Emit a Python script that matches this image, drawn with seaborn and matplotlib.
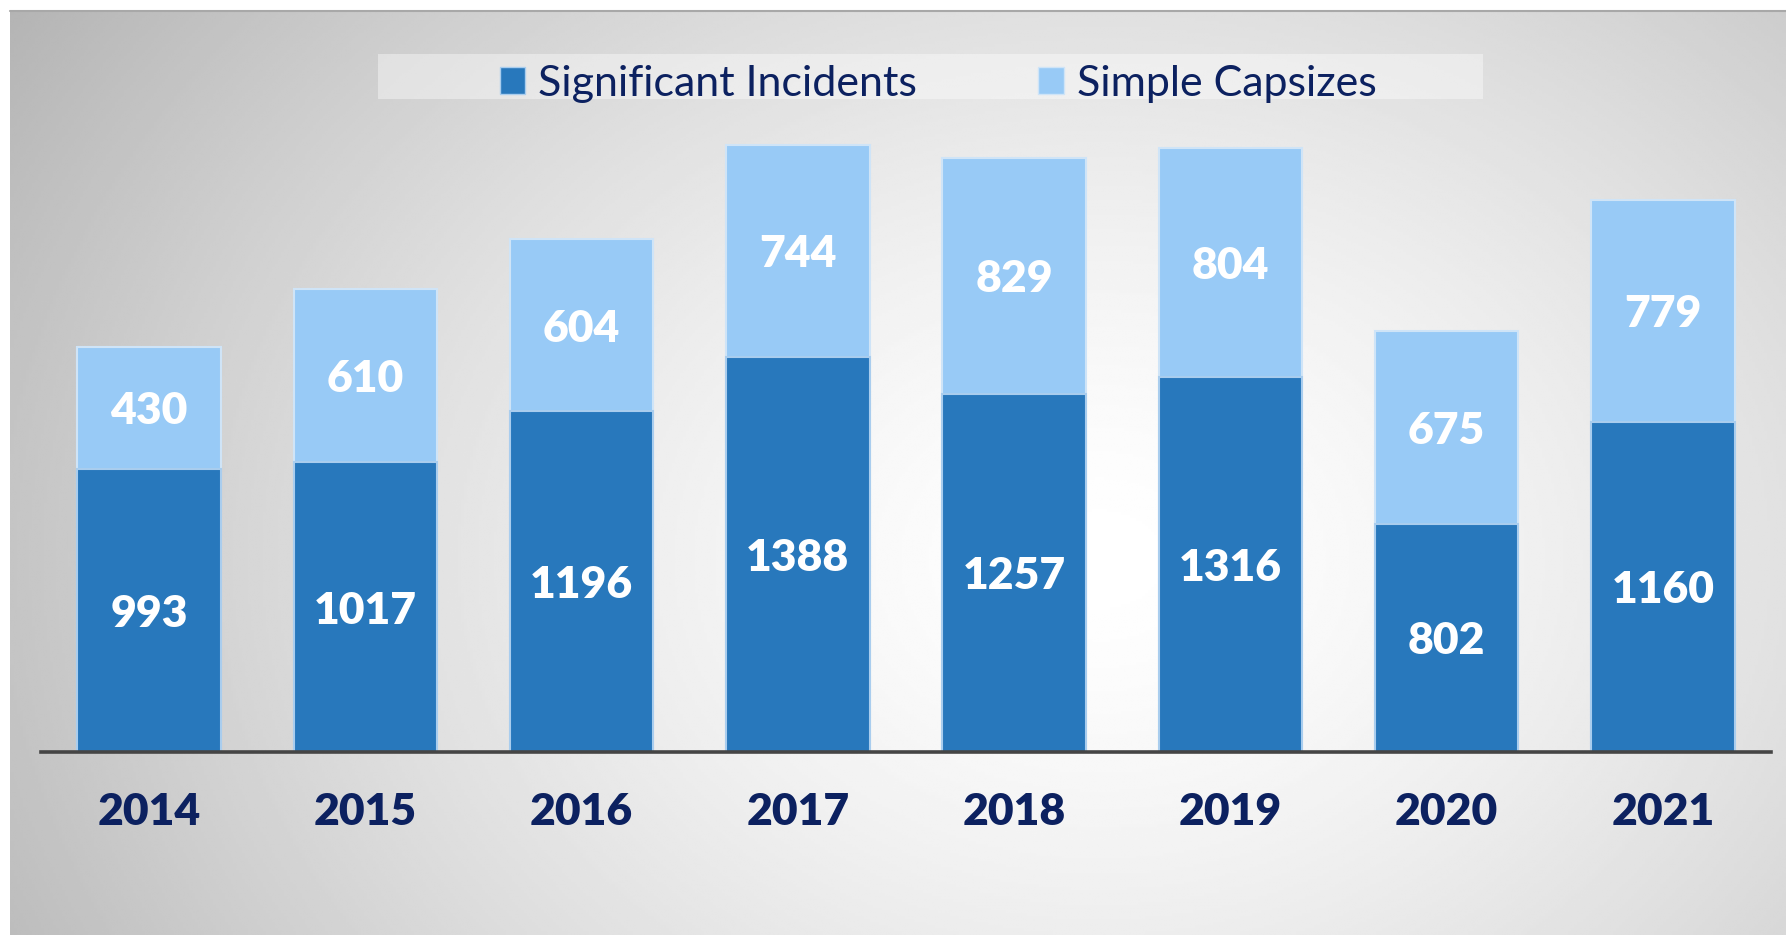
import numpy as np
import pandas as pd
import matplotlib
matplotlib.use("Agg")
import matplotlib.pyplot as plt
from matplotlib.patches import Patch, Rectangle
import seaborn as sns

# data
years = ["2014", "2015", "2016", "2017", "2018", "2019", "2020", "2021"]
significant = [993, 1017, 1196, 1388, 1257, 1316, 802, 1160]
capsizes = [430, 610, 604, 744, 829, 804, 675, 779]

df = pd.DataFrame({"Year": years, "Significant": significant, "Capsizes": capsizes})
df["Total"] = df["Significant"] + df["Capsizes"]

dark_blue = "#2878bc"
light_blue = "#98caf6"
navy = "#0c2160"

sns.set_style("white")
plt.rcParams["font.family"] = ["Lato", "DejaVu Sans"]

W, H = 1786, 935
fig = plt.figure(figsize=(W / 100, H / 100), dpi=100)
fig.patch.set_facecolor("white")

# radial grey-to-white background panel
bg = fig.add_axes([0, 0, 1, 1], zorder=-10)
bg.set_xlim(0, W)
bg.set_ylim(H, 0)
bg.axis("off")
xx, yy = np.meshgrid(np.linspace(10, W, 600), np.linspace(11, H, 320))
r = np.sqrt(((xx - 1100) / 900) ** 2 + ((yy - 560) / 700) ** 2)
shade = (255 - 44 * r ** 1.45) / 255
bg.imshow(shade, cmap="gray", vmin=0, vmax=1, extent=(10, W, H, 11),
          aspect="auto", interpolation="bilinear")
bg.plot([10, W], [11, 11], color="#a8a8a8", lw=1.5)
# legend backdrop
bg.add_patch(Rectangle((378, 54), 1105, 45, facecolor="white", alpha=0.4,
                       edgecolor="none"))

ax = fig.add_axes([41 / W, 1 - 752 / H, 1730 / W, 652 / H])
ax.set_facecolor("none")

sns.barplot(data=df, x="Year", y="Total", color=light_blue, width=0.663,
            edgecolor="#cfe4f7", linewidth=1.5, saturation=1, ax=ax)
sns.barplot(data=df, x="Year", y="Significant", color=dark_blue, width=0.663,
            edgecolor="#a9cdee", linewidth=1.5, saturation=1, ax=ax)

for i, (s, c) in enumerate(zip(significant, capsizes)):
    ax.text(i, s / 2, str(s), ha="center", va="center_baseline", color="white",
            fontsize=32, fontweight="heavy")
    ax.text(i, s + c / 2, str(c), ha="center", va="center_baseline", color="white",
            fontsize=32, fontweight="heavy")

ax.set_xlim(-0.5, 7.5)
ax.set_ylim(0, 2289)
ax.set_xlabel("")
ax.set_ylabel("")
ax.set_yticks([])
ax.tick_params(axis="x", length=0, pad=29, labelsize=32, labelcolor=navy)
for lab in ax.get_xticklabels():
    lab.set_fontweight("heavy")
for side in ["top", "left", "right"]:
    ax.spines[side].set_visible(False)
ax.spines["bottom"].set_color("#454545")
ax.spines["bottom"].set_linewidth(2.6)

handles = [Patch(facecolor=dark_blue, edgecolor="#a9cdee"),
           Patch(facecolor=light_blue, edgecolor="#cfe4f7")]
fig.legend(handles, ["Significant Incidents", "Simple Capsizes"],
           loc="center", bbox_to_anchor=(938 / W, 1 - 84 / H), ncol=2,
           frameon=False, fontsize=31, labelcolor=navy,
           handlelength=0.6, handleheight=0.6, handletextpad=0.3,
           columnspacing=2.8)

fig.savefig("out.png", dpi=100)
